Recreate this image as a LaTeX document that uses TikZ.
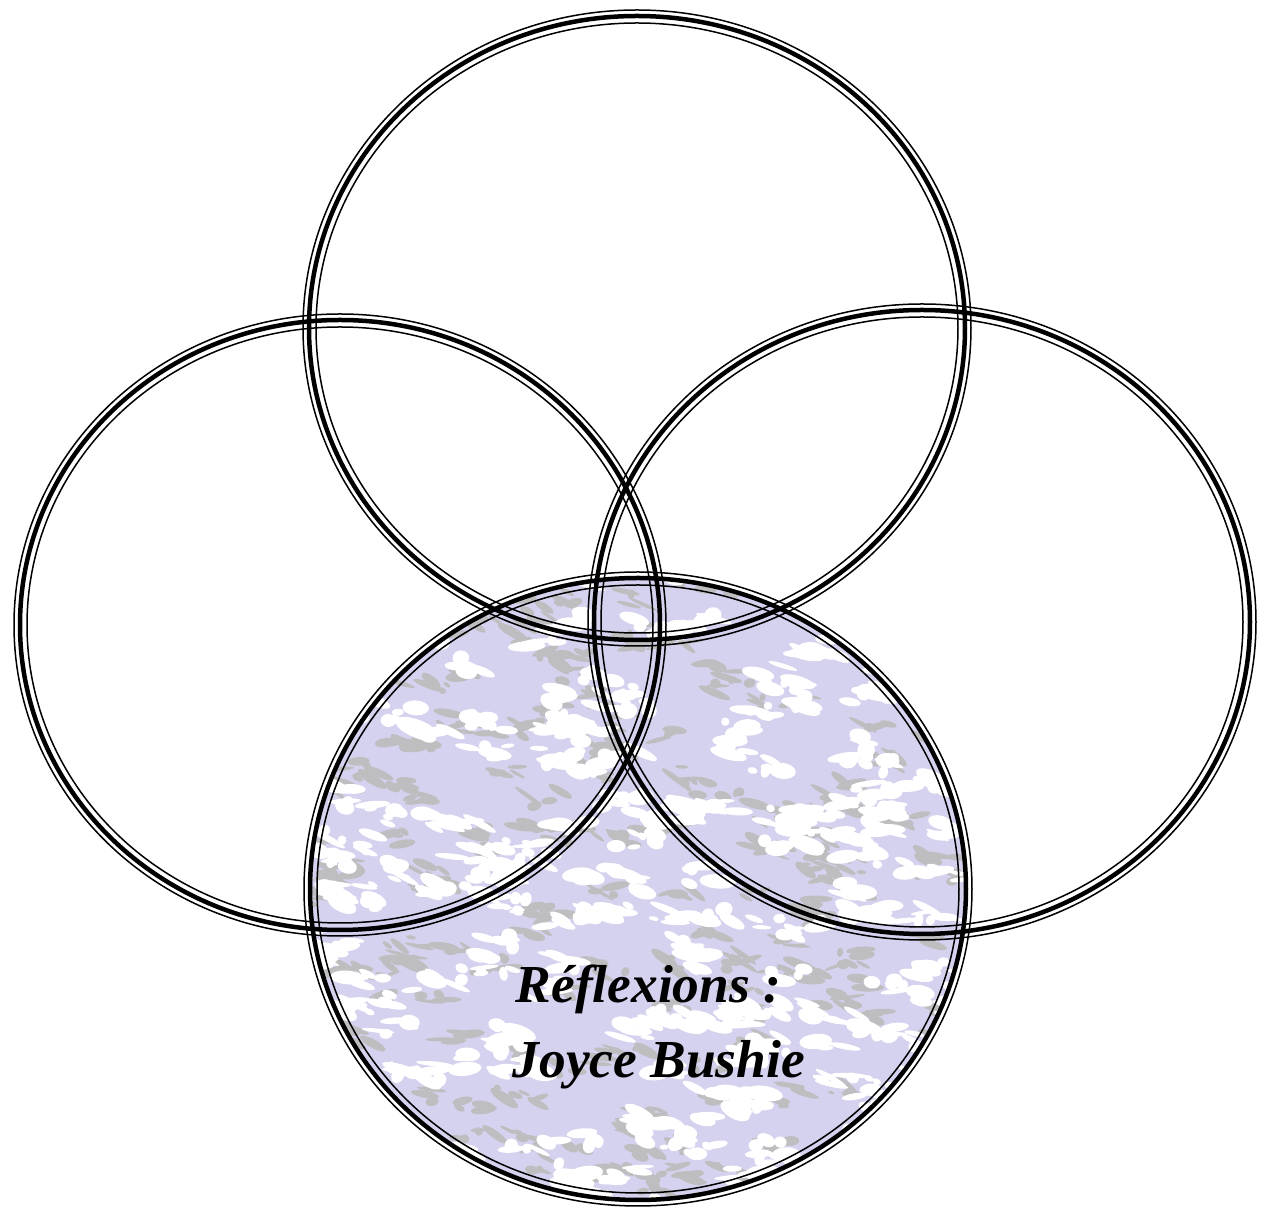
\documentclass[tikz,border=0pt]{standalone}
\usepackage{fontspec}
\newfontfamily\labelfont{Liberation Serif}
\definecolor{lav}{RGB}{212,210,238}
\definecolor{marblegray}{RGB}{190,190,192}
\newcommand\ringshape[4]{%
  \draw[ringthin] (#1,#2) ellipse [x radius=#3*0.1mm+0.6mm, y radius=#4*0.1mm+0.6mm];
  \draw[ringthick] (#1,#2) ellipse [x radius=#3*0.1mm, y radius=#4*0.1mm];
  \draw[ringthin] (#1,#2) ellipse [x radius=#3*0.1mm-0.7mm, y radius=#4*0.1mm-0.7mm];}
\begin{document}
\begin{tikzpicture}[x=0.1mm,y=-0.1mm,
  ringthin/.style={line width=0.15mm,black},
  ringthick/.style={line width=0.45mm,black},
  label/.style={font=\labelfont\fontsize{15.2}{18}\selectfont\bfseries\itshape, inner sep=0pt, anchor=base west}]
\useasboundingbox (0,0) rectangle (1265,1215);
\fill[white] (0,0) rectangle (1265,1215);
% marble texture in the bottom circle
\begin{scope}
\clip (638,889) ellipse [x radius=32.8mm, y radius=31.1mm];
\fill[lav] (300,570) rectangle (980,1210);
\pgfmathsetseed{11}
\foreach \i in {1,...,230}{
  \pgfmathsetmacro\cx{300+rnd*680}
  \pgfmathsetmacro\cy{570+rnd*640}
  \foreach \j in {1,...,4}{
    \pgfmathsetmacro\dx{\cx+rnd*36-18}
    \pgfmathsetmacro\dy{\cy+rnd*16-8}
    \pgfmathsetmacro\a{3+rnd*14}
    \pgfmathsetmacro\b{1.5+rnd*3.5}
    \pgfmathsetmacro\r{-40+rnd*60}
    \fill[marblegray, rotate around={\r:(\dx,\dy)}] (\dx,\dy) ellipse [x radius=\a*0.1mm, y radius=\b*0.1mm];
  }
}
\foreach \i in {1,...,220}{
  \pgfmathsetmacro\cx{300+rnd*680}
  \pgfmathsetmacro\cy{570+rnd*640}
  \foreach \j in {1,...,5}{
    \pgfmathsetmacro\dx{\cx+rnd*44-22}
    \pgfmathsetmacro\dy{\cy+rnd*18-9}
    \pgfmathsetmacro\a{4+rnd*15}
    \pgfmathsetmacro\b{2+rnd*6}
    \pgfmathsetmacro\r{-30+rnd*40}
    \fill[white, rotate around={\r:(\dx,\dy)}] (\dx,\dy) ellipse [x radius=\a*0.1mm, y radius=\b*0.1mm];
  }
}
\end{scope}
% rings
\ringshape{637}{328}{328}{312}
\ringshape{340}{625}{320}{305}
\ringshape{922}{622}{328}{312}
\ringshape{638}{889}{328}{311}
% text
\node[label] (t1) at (515,1003) {Réflexions :};
\node[label] (t2) at (512,1078) {Joyce Bushie};
\end{tikzpicture}
\end{document}
